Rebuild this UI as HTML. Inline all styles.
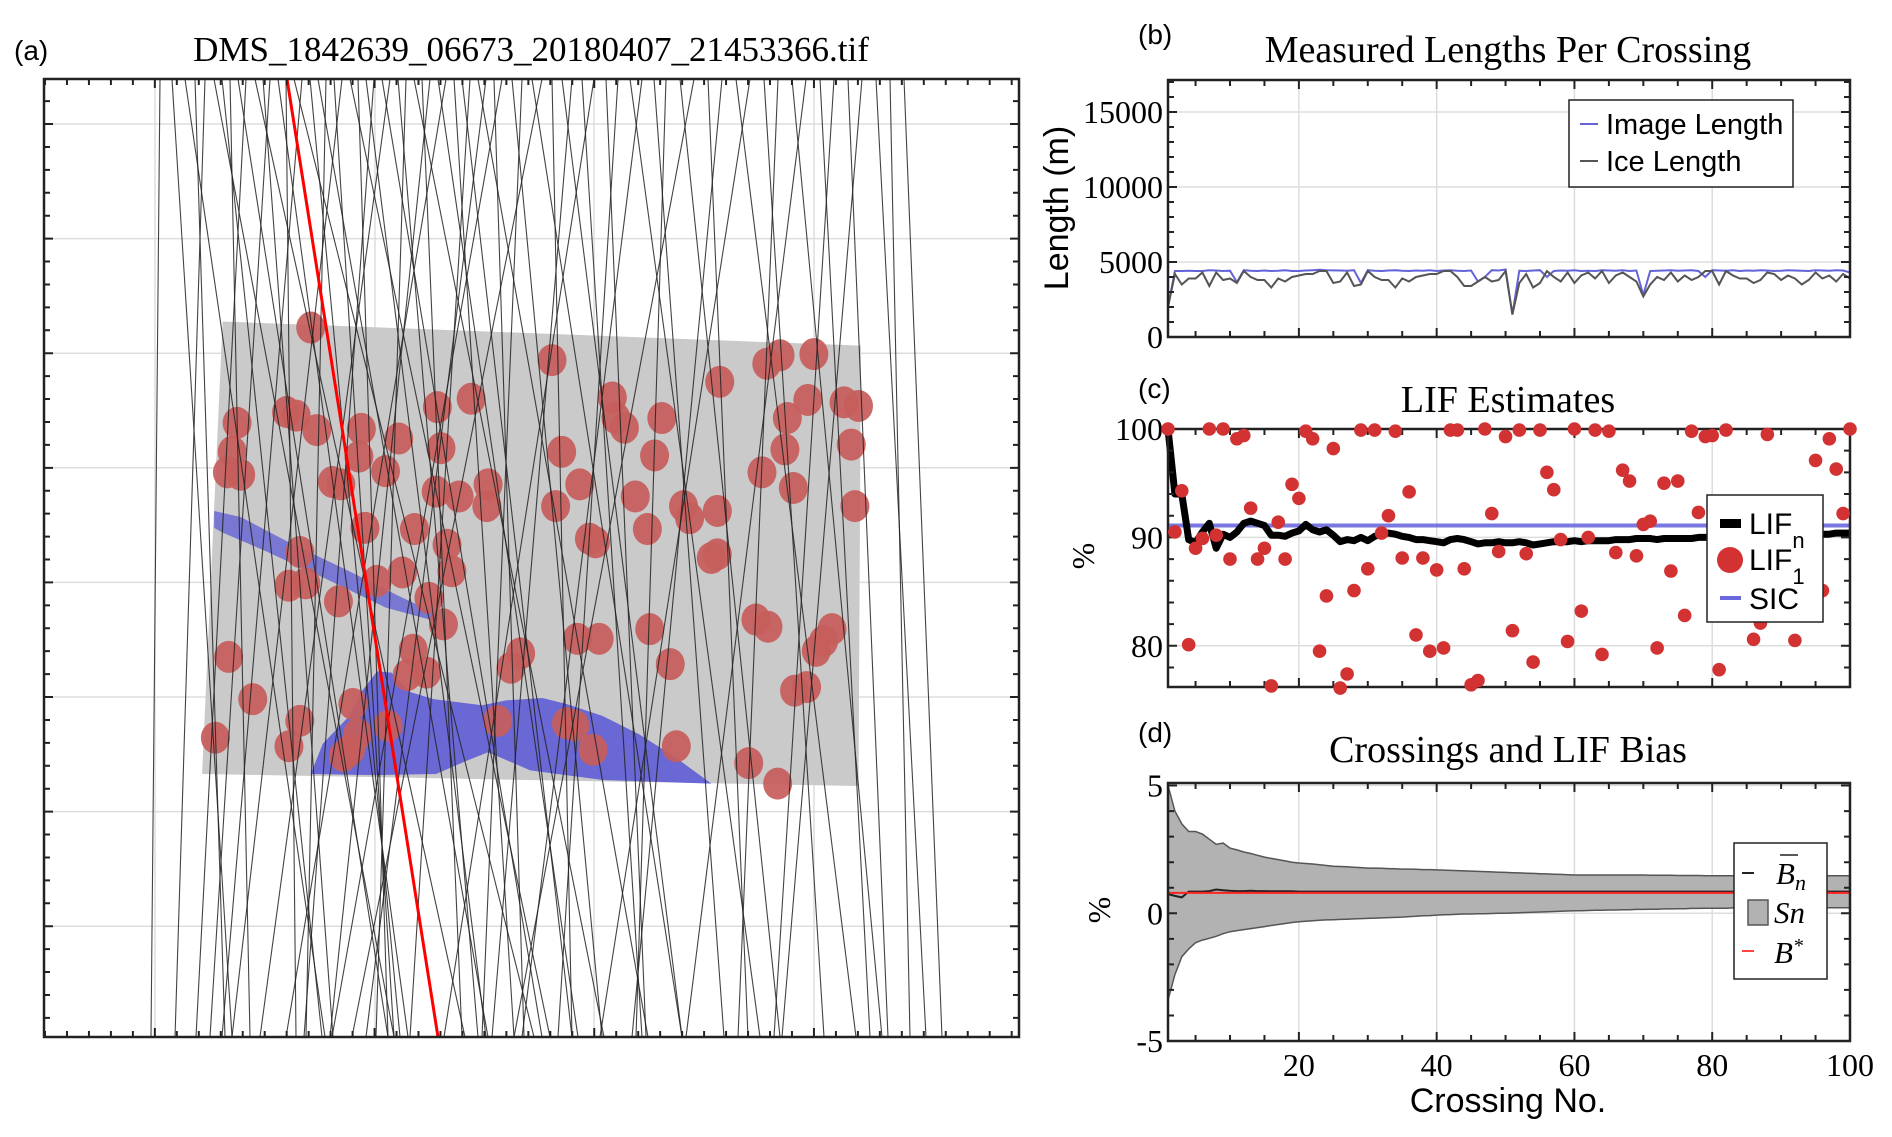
<!DOCTYPE html>
<html><head><meta charset="utf-8">
<style>
html,body{margin:0;padding:0;background:#fff;}
svg{display:block;}
.serif{font-family:"Liberation Serif",serif;}
.sans{font-family:"Liberation Sans",sans-serif;}
</style></head>
<body>
<svg id="fig" width="1892" height="1137" viewBox="0 0 1892 1137" xmlns="http://www.w3.org/2000/svg">
<rect x="0" y="0" width="1892" height="1137" fill="#fff"/>
<g id="pa"></g>
<g id="pb"></g>
<g id="pc"></g>
<g id="pd"></g>
<text x="14" y="60" class="sans" font-size="28">(a)</text>
<text x="531" y="61" class="serif" font-size="35" text-anchor="middle">DMS_1842639_06673_20180407_21453366.tif</text>
<text x="1138" y="44" class="sans" font-size="28">(b)</text>
<text x="1508" y="62" class="serif" font-size="38" text-anchor="middle">Measured Lengths Per Crossing</text>
<text transform="translate(1068,208) rotate(-90)" class="sans" font-size="34" text-anchor="middle">Length (m)</text>
<text x="1138" y="398" class="sans" font-size="28">(c)</text>
<text x="1508" y="412" class="serif" font-size="38" text-anchor="middle">LIF Estimates</text>
<text transform="translate(1094,556) rotate(-90)" class="serif" font-size="32" text-anchor="middle">%</text>
<text x="1138" y="742" class="sans" font-size="28">(d)</text>
<text x="1508" y="762" class="serif" font-size="38" text-anchor="middle">Crossings and LIF Bias</text>
<text transform="translate(1110,910) rotate(-90)" class="serif" font-size="32" text-anchor="middle">%</text>
<text x="1508" y="1112" class="sans" font-size="34" text-anchor="middle">Crossing No.</text>
</svg>
<script>
// ---------- Panel (a) data (image coords) ----------
const lineTop = [160,172,185,195,205,214,222,230,238,246,255,263,270,278,286,294,302,310,318,326,334,342,350,358,366,374,382,390,398,406,414,422,430,438,446,454,462,470,478,486,494,502,512,522,532,542,552,562,572,582,594,606,618,630,642,654,666,680,694,708,722,736,750,764,778,792,806,820,834,848,862,876,890,904];
const lineShift = [-9,60,140,30,-30,180,100,20,150,-50,210,70,-60,130,10,240,-80,90,170,-20,60,-110,200,30,120,-70,160,-130,80,-30,190,40,-100,140,-160,60,110,-60,170,-120,30,-170,90,-40,150,-190,20,120,-80,60,-150,40,-60,130,-120,70,-30,100,-180,40,-90,120,-150,60,-40,90,-120,50,-60,40,-80,50,20,38];
const redTop = 287, redBot = 438;
const circX = [258,458,636,647,675,597,197,238,246,263,300,331,363,391,508,511,518,549,653,670,700,712,193,189,200,298,320,366,466,543,632,651,706,276,283,362,381,405,404,461,481,527,567,572,595,658,709,303,344,371,489,494,537,590,595,249,240,254,281,313,334,356,375,368,190,343,354,479,497,539,556,432,424,627,637,690,683,677,210,293,297,249,240,285,291,322,413,470,477,492,561,621,645,659,669,179,338];
const circY = [270,297,300,293,292,315,349,340,343,355,354,362,336,329,328,345,353,345,345,330,332,335,373,390,392,377,389,370,373,376,390,371,367,398,400,406,410,400,418,418,400,410,418,428,422,403,418,436,437,450,445,448,437,461,458,456,484,482,497,480,473,494,472,516,543,537,556,528,528,520,549,540,552,512,518,520,530,538,578,582,607,596,617,625,620,600,596,598,600,620,617,631,648,571,568,610,558];

// ---------- Panel (b) data ----------
const crossings = Array.from({length:100},(_, i)=>i+1);
const imageLength = [2000,4400,4400,4420,4400,4400,4450,4430,4400,4420,3650,4450,4420,4400,4430,4400,4420,4450,4400,4400,4430,4450,4480,4450,4440,4430,4420,4450,3600,4450,4420,4400,4430,4450,4420,4400,4430,4420,4450,4400,4430,4450,4420,4400,4430,3700,4000,4450,4430,4500,1500,4420,4400,4430,4450,4000,4400,4430,4420,4450,4400,4420,4400,4450,4430,4420,4450,4400,4430,2800,4400,4420,4430,4450,4420,4430,4450,4400,4000,4450,4430,4420,4450,4400,4430,4420,4450,4430,4400,4420,4450,4430,4420,4400,4450,4430,4420,4450,4430,4300];
const iceLength = [2000,4200,3500,3900,3900,4300,3400,4300,3800,3900,3600,4400,4000,3800,3800,3300,3900,3700,4000,4100,4200,4200,4400,4400,3600,3700,4300,3400,3500,4400,4000,3800,3800,3300,3900,3700,4000,4100,4200,4200,4400,4400,4000,3400,3400,3700,4000,3700,3800,4400,1500,3600,4200,3300,3600,4400,4000,3700,4300,3600,4100,4300,3900,4400,3600,4100,4300,4000,3700,2700,3500,4000,3800,4300,3700,4100,3800,4000,4400,4400,3500,4400,4100,3900,3900,3600,3800,4300,4200,3800,4100,3900,3500,3800,4300,3900,4100,3700,4200,3900];

// ---------- Panel (c) data ----------
const lif1 = [100,90.5,94.3,80.1,89,89.9,100,90.2,100,88,99.1,99.4,92.7,88,89,76.3,91.4,88,94.9,93.6,99.8,99.1,79.5,84.6,98.2,76.1,77.4,85.1,99.9,87.1,99.9,90.4,92,99.8,88.1,94.2,81,88.1,79.5,87,79.8,99.9,99.9,87.1,76.4,76.8,100,92.2,88.7,99.3,81.4,99.9,88.5,78.5,99.9,96,94.4,89.8,80.4,100,83.2,90,99.9,79.2,99.8,88.6,96.2,95.2,88.3,91.2,91.5,79.8,95,86.9,95.2,82.8,99.8,92.3,99.3,99.4,77.8,99.9,90.5,90.8,91,80.6,82.1,99.5,88,87,91.5,80.5,89,92,97.1,85.1,99.1,96.3,92.2,100];
const lifN = [100,94,94,89.8,89.5,90.5,91.3,89,90.3,90,90.5,91.3,91.5,91.3,91.1,90.2,90.2,90.1,90.4,90.6,91.2,90.7,90.5,90.7,90.2,89.6,89.8,89.7,90,89.7,90.1,90.3,90.4,90.3,90.1,90,89.8,89.8,89.7,89.6,89.5,89.8,89.9,89.8,89.6,89.4,89.5,89.5,89.6,89.5,89.5,89.6,89.5,89.3,89.4,89.5,89.6,89.6,89.6,89.7,89.6,89.7,89.7,89.7,89.7,89.8,89.8,89.8,89.9,89.9,89.9,89.8,89.9,89.9,89.9,89.9,89.9,90,90,90.1,90.1,90.1,90.1,90.2,90.2,90.2,90.2,90.2,90.2,90.3,90.2,90.2,90.3,90.3,90.3,90.3,90.3,90.4,90.4,90.4];
const sic = 91.1;

// ---------- Panel (d) data ----------
const upperS = [5.0,4.0,3.5,3.2,3.2,3.1,2.9,2.7,2.75,2.55,2.48,2.4,2.34,2.27,2.2,2.15,2.1,2.05,2.0,1.97,1.95,1.93,1.9,1.87,1.84,1.83,1.82,1.8,1.79,1.77,1.77,1.76,1.75,1.74,1.73,1.73,1.72,1.71,1.71,1.7,1.69,1.68,1.67,1.66,1.65,1.64,1.63,1.62,1.61,1.6,1.59,1.58,1.57,1.56,1.55,1.54,1.53,1.52,1.51,1.5,1.5,1.5,1.5,1.5,1.5,1.5,1.5,1.5,1.5,1.5,1.49,1.49,1.49,1.49,1.48,1.48,1.48,1.48,1.47,1.47,1.47,1.47,1.47,1.47,1.47,1.47,1.47,1.47,1.47,1.47,1.47,1.47,1.47,1.47,1.47,1.47,1.47,1.47,1.47,1.47];
const lowerS = [-3.4,-2.4,-1.7,-1.4,-1.15,-1.05,-0.98,-0.9,-0.8,-0.72,-0.68,-0.64,-0.6,-0.56,-0.52,-0.48,-0.44,-0.4,-0.36,-0.33,-0.31,-0.29,-0.27,-0.26,-0.25,-0.24,-0.23,-0.22,-0.21,-0.2,-0.19,-0.18,-0.17,-0.16,-0.15,-0.13,-0.12,-0.1,-0.09,-0.07,-0.06,-0.05,-0.04,-0.03,-0.03,-0.02,-0.02,-0.01,0,0,0.01,0.02,0.03,0.04,0.05,0.06,0.07,0.08,0.09,0.1,0.1,0.11,0.12,0.12,0.13,0.13,0.14,0.14,0.15,0.15,0.16,0.16,0.17,0.17,0.18,0.18,0.19,0.19,0.2,0.2,0.2,0.2,0.21,0.21,0.21,0.21,0.21,0.21,0.22,0.22,0.22,0.22,0.22,0.22,0.22,0.22,0.22,0.22,0.22,0.22];
const meanB = [0.75,0.68,0.62,0.85,0.85,0.85,0.87,0.93,0.9,0.88,0.87,0.87,0.88,0.87,0.87,0.86,0.86,0.86,0.86,0.85,0.85,0.85,0.85,0.85,0.85,0.85,0.85,0.85,0.85,0.85,0.85,0.85,0.85,0.85,0.85,0.85,0.85,0.85,0.85,0.85,0.85,0.85,0.85,0.85,0.85,0.85,0.85,0.85,0.85,0.85,0.85,0.85,0.85,0.85,0.85,0.85,0.85,0.85,0.85,0.85,0.85,0.85,0.85,0.85,0.85,0.85,0.85,0.85,0.85,0.85,0.85,0.85,0.85,0.85,0.85,0.85,0.85,0.85,0.85,0.85,0.85,0.85,0.85,0.85,0.85,0.85,0.85,0.85,0.85,0.85,0.85,0.85,0.85,0.85,0.85,0.85,0.85,0.85,0.85,0.85];
const bStar = 0.8;

const NS='http://www.w3.org/2000/svg';
function mk(parent, tag, attrs){const e=document.createElementNS(NS,tag);for(const k in attrs)e.setAttribute(k,attrs[k]);parent.appendChild(e);return e;}
function lin(d0,d1,r0,r1){return v=>r0+(v-d0)*(r1-r0)/(d1-d0);}

// ================= Panel A =================
(function(){
const g=document.getElementById('pa');
const L=44,R=1019,T=79,B=1037;
const ax=lin(37,845,L,R), ay=lin(64,858,T,B);
let e;
[155,375,594,814].forEach(x=>{e=mk(g,'line',{x1:x,y1:T,x2:x,y2:B,stroke:'#ddd','stroke-width':1.5});
});
for(let y=124;y<B;y+=114.6){e=mk(g,'line',{x1:L,y1:y,x2:R,y2:y,stroke:'#ddd','stroke-width':1.5});
}
e=mk(g,'polygon',{points:[[ax(185),ay(265)],[ax(714),ay(285)],[ax(712),ay(650)],[ax(168),ay(640)]].map(p=>p.join(',')).join(' '),fill:'#cacaca'});

const blue1=[[258,640],[268,615],[290,592],[300,572],[313,555],[325,556],[340,572],[360,578],[400,583],[420,579],[450,577],[470,582],[500,592],[530,607],[560,626],[590,648],[500,645],[440,637],[405,622],[385,630],[362,640],[310,641]];
e=mk(g,'polygon',{points:blue1.map(p=>ax(p[0])+','+ay(p[1])).join(' '),fill:'#6a68d4'});

const blue2=[[178,422],[200,427],[240,448],[290,472],[330,492],[362,507],[360,513],[320,502],[270,478],[220,455],[185,440],[178,436]];
e=mk(g,'polygon',{points:blue2.map(p=>ax(p[0])+','+ay(p[1])).join(' '),fill:'#6a68d4','fill-opacity':0.85});

for(let i=0;i<circX.length;i++){e=mk(g,'ellipse',{cx:ax(circX[i]),cy:ay(circY[i]),rx:14.5,ry:16,fill:'#c65e5b','fill-opacity':0.93});
}
for(let i=0;i<lineTop.length;i++){
const b=Math.max(151,Math.min(942,lineTop[i]+lineShift[i]));
e=mk(g,'line',{x1:lineTop[i],y1:T,x2:b,y2:B,stroke:'#222','stroke-width':1.1,'stroke-opacity':0.85});
}
e=mk(g,'line',{x1:redTop,y1:T,x2:redBot,y2:B,stroke:'#f00','stroke-width':3});

let tk='';
for(let x=155-22*5;x<R;x+=21.97){if(x<=L)continue;const len=Math.abs(((x-155)/219.7)-Math.round((x-155)/219.7))<0.05?9:6;tk+=`M${x},${T}v${len}M${x},${B}v${-len}`;}
for(let y=124-22.9*1;y<B;y+=22.92){if(y<=T)continue;const len=Math.abs(((y-124)/114.6)-Math.round((y-124)/114.6))<0.05?9:6;tk+=`M${L},${y}h${len}M${R},${y}h${-len}`;}
e=mk(g,'path',{d:tk,stroke:'#222','stroke-width':2,fill:'none'});

e=mk(g,'rect',{x:L,y:T,width:R-L,height:B-T,fill:'none',stroke:'#222','stroke-width':2.5});

})();

function axesFrame(g,L,R,T,B,x,y,yt,ymin,ymax,ylabels,name){
  let e;
  [20,40,60,80].forEach(v=>{e=mk(g,'line',{x1:x(v),y1:T,x2:x(v),y2:B,stroke:'#ddd','stroke-width':1.5});
  });
  ylabels.forEach(v=>{e=mk(g,'line',{x1:L,y1:y(v),x2:R,y2:y(v),stroke:'#ddd','stroke-width':1.5});
  });
}
function axesTicks(g,L,R,T,B,x,y,yt,ymin,ymax,ylabels,name,xlabels){
  let e,tk='';
  for(let v=5;v<100;v+=5){const len=v%20===0?9:6;tk+=`M${x(v)},${T}v${len}M${x(v)},${B}v${-len}`;}
  for(let v=Math.ceil(ymin/yt)*yt;v<=ymax;v+=yt){const len=ylabels.some(l=>Math.abs(l-v)<1e-6)?9:6;tk+=`M${L},${y(v)}h${len}M${R},${y(v)}h${-len}`;}
  e=mk(g,'path',{d:tk,stroke:'#222','stroke-width':2,fill:'none'});
  
  e=mk(g,'rect',{x:L,y:T,width:R-L,height:B-T,fill:'none',stroke:'#222','stroke-width':2.5});
  
  ylabels.forEach(v=>{e=mk(g,'text',{x:L-5,y:y(v)+11,'text-anchor':'end','font-size':32,class:'serif'});e.textContent=String(v);
  });
  if(xlabels){xlabels.forEach(v=>{e=mk(g,'text',{x:x(v),y:B+35,'text-anchor':'middle','font-size':32,class:'serif'});e.textContent=String(v);
  });}
}
function pathFrom(xs,ys,x,y){return xs.map((v,i)=>(i?'L':'M')+x(v).toFixed(1)+','+y(ys[i]).toFixed(1)).join('');}

// ================= Panel B =================
(function(){
const g=document.getElementById('pb');
const L=1168,R=1850,T=80,B=337;
const x=lin(1,100,L,R), y=lin(0,17133,B,T);
const yl=[0,5000,10000,15000];
axesFrame(g,L,R,T,B,x,y,1000,0,17133,yl,'panel-b');
let e=mk(g,'path',{d:pathFrom(crossings,imageLength,x,y),stroke:'#6464d8','stroke-width':2,fill:'none'});

e=mk(g,'path',{d:pathFrom(crossings,iceLength,x,y),stroke:'#555','stroke-width':2,fill:'none'});

axesTicks(g,L,R,T,B,x,y,1000,0,17133,yl,'panel-b',null);
const lg=mk(g,'g',{});
mk(lg,'rect',{x:1569,y:100,width:224,height:87,fill:'#fff',stroke:'#222','stroke-width':1.5});
mk(lg,'line',{x1:1580,y1:124,x2:1598,y2:124,stroke:'#6464d8','stroke-width':2});
mk(lg,'line',{x1:1580,y1:161,x2:1598,y2:161,stroke:'#555','stroke-width':2});
e=mk(lg,'text',{x:1606,y:134,'font-size':29,class:'sans'});e.textContent='Image Length';

e=mk(lg,'text',{x:1606,y:171,'font-size':29,class:'sans'});e.textContent='Ice Length';

})();

// ================= Panel C =================
(function(){
const g=document.getElementById('pc');
const L=1168,R=1850,T=429,B=687;
const x=lin(1,100,L,R), y=lin(76.2,100,B,T);
const yl=[80,90,100];
axesFrame(g,L,R,T,B,x,y,2,76.2,100,yl,'panel-c');
let e=mk(g,'line',{x1:L,y1:y(sic),x2:R,y2:y(sic),stroke:'#6a68dd','stroke-width':4,'stroke-opacity':0.9});

e=mk(g,'path',{d:pathFrom(crossings,lifN,x,y),stroke:'#000','stroke-width':7,fill:'none','stroke-linejoin':'round'});

axesTicks(g,L,R,T,B,x,y,2,76.2,100,yl,'panel-c',null);
for(let i=0;i<lif1.length;i++){e=mk(g,'circle',{cx:x(crossings[i]),cy:y(lif1[i]),r:6.8,fill:'#d23232'});
}
const lg=mk(g,'g',{});
mk(lg,'rect',{x:1707,y:495,width:116,height:127,fill:'#fff',stroke:'#222','stroke-width':1.5});
mk(lg,'rect',{x:1720,y:519,width:21,height:9,fill:'#000'});
mk(lg,'circle',{cx:1730,cy:560,r:13,fill:'#d23232'});
mk(lg,'line',{x1:1720,y1:598,x2:1741,y2:598,stroke:'#6a68dd','stroke-width':4});
e=mk(lg,'text',{x:1749,y:534,'font-size':30,class:'sans'});e.innerHTML='LIF<tspan dy="14" font-size="22">n</tspan>';

e=mk(lg,'text',{x:1749,y:570,'font-size':30,class:'sans'});e.innerHTML='LIF<tspan dy="14" font-size="22">1</tspan>';

e=mk(lg,'text',{x:1749,y:609,'font-size':30,class:'sans'});e.textContent='SIC';

})();

// ================= Panel D =================
(function(){
const g=document.getElementById('pd');
const L=1168,R=1850,T=783,B=1041;
const x=lin(1,100,L,R), y=lin(-5,5.1,B,T);
const yl=[-5,0,5];
axesFrame(g,L,R,T,B,x,y,1,-5,5,yl,'panel-d');
const up=crossings.map((c,i)=>(i?'L':'M')+x(c).toFixed(1)+','+y(upperS[i]).toFixed(1)).join('');
const dn=crossings.slice().reverse().map((c,j)=>{const i=99-j;return 'L'+x(c).toFixed(1)+','+y(lowerS[i]).toFixed(1);}).join('');
let e=mk(g,'path',{d:up+dn+'Z',fill:'#b2b2b2',stroke:'#555','stroke-width':1.5});

e=mk(g,'path',{d:pathFrom(crossings,meanB,x,y),stroke:'#222','stroke-width':2,fill:'none'});

e=mk(g,'line',{x1:L,y1:y(bStar),x2:R,y2:y(bStar),stroke:'#f22','stroke-width':2});

axesTicks(g,L,R,T,B,x,y,1,-5,5,yl,'panel-d',[20,40,60,80,100]);
const lg=mk(g,'g',{});
mk(lg,'rect',{x:1734,y:843,width:93,height:136,fill:'#fff',stroke:'#222','stroke-width':1.5});
mk(lg,'line',{x1:1742,y1:873,x2:1754,y2:873,stroke:'#222','stroke-width':2});
mk(lg,'rect',{x:1748,y:900,width:20,height:25,fill:'#b2b2b2',stroke:'#555','stroke-width':1.5});
mk(lg,'line',{x1:1742,y1:951,x2:1754,y2:951,stroke:'#f44','stroke-width':2});
mk(lg,'line',{x1:1780,y1:855,x2:1798,y2:855,stroke:'#222','stroke-width':1.5});
e=mk(lg,'text',{x:1776,y:884,'font-size':31,class:'serif','font-style':'italic'});e.innerHTML='B<tspan dy="6" font-size="22">n</tspan>';

e=mk(lg,'text',{x:1774,y:923,'font-size':31,class:'serif','font-style':'italic'});e.textContent='Sn';

e=mk(lg,'text',{x:1774,y:963,'font-size':31,class:'serif','font-style':'italic'});e.innerHTML='B<tspan dy="-11" font-size="20">*</tspan>';

})();
</script>
</body></html>
